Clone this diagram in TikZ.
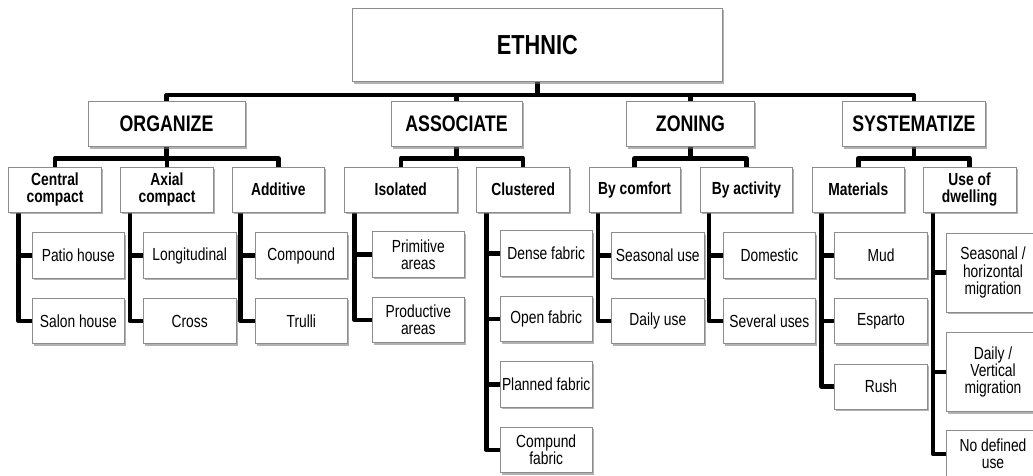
\documentclass[tikz,border=0pt]{standalone}
\usepackage{fontspec}
\setmainfont{Liberation Sans}[FakeStretch=0.79]
\usetikzlibrary{shadows,backgrounds}
\begin{document}
\begin{tikzpicture}[x=1pt,y=-1pt,
  box/.style={draw=black!45, line width=0.8pt, fill=white, inner sep=0pt, align=center,
    text=black, drop shadow={shadow xshift=1.6pt, shadow yshift=-1.8pt, fill=black!55, opacity=0.55}},
  topbox/.style={box, minimum width=370.6pt, minimum height=73.4pt, font=\fontsize{27.5}{29}\selectfont\bfseries},
  lone/.style={box, minimum height=45.3pt, font=\fontsize{22.5}{24}\selectfont\bfseries},
  ltwo/.style={box, minimum height=45.3pt, minimum width=92.5pt, font=\fontsize{17.5}{17}\selectfont\bfseries},
  lthree/.style={box, minimum height=45.5pt, minimum width=92.5pt, font=\fontsize{17.5}{17.3}\selectfont},
  conn/.style={line width=4.5pt, black, line join=round}
]
\useasboundingbox (0,0) rectangle (1033,475);

% root
\node[topbox] (eth) at (537.3,45) {ETHNIC};

% level 1
\node[lone, minimum width=157pt] (org) at (166.5,124.2) {ORGANIZE};
\node[lone, minimum width=131pt] (ass) at (456.5,124.2) {ASSOCIATE};
\node[lone, minimum width=127.4pt] (zon) at (690.5,124.2) {ZONING};
\node[lone, minimum width=143pt] (sys) at (913.9,124.2) {SYSTEMATIZE};

% level 2
\node[ltwo, minimum width=93.4pt] (cc) at (55,189.7) {Central\\compact};
\node[ltwo] (ac) at (167,189.7) {Axial\\compact};
\node[ltwo, minimum width=92pt] (ad) at (278.3,189.7) {Additive};
\node[ltwo, minimum width=113.7pt] (iso) at (400.8,189.7) {Isolated};
\node[ltwo, minimum width=93pt] (clu) at (523.2,189.7) {Clustered};
\node[ltwo, minimum width=91.2pt] (bco) at (634.6,189.7) {By comfort};
\node[ltwo, minimum width=91.8pt] (bac) at (746.4,189.7) {By activity};
\node[ltwo] (mat) at (858.3,189.7) {Materials};
\node[ltwo, minimum width=92.8pt] (use) at (969.6,189.7) {Use of\\dwelling};

% level 3
\node[lthree, minimum width=92pt] (ph) at (78.3,255.5) {Patio house};
\node[lthree, minimum width=92pt] (sh) at (78.3,321) {Salon house};
\node[lthree] (lo) at (189.7,255.5) {Longitudinal};
\node[lthree] (cr) at (189.7,321) {Cross};
\node[lthree] (co) at (301.3,255.5) {Compound};
\node[lthree] (tr) at (301.3,321) {Trulli};
\node[lthree, minimum width=92pt] (pr) at (418.3,254.5) {Primitive\\areas};
\node[lthree, minimum width=92pt] (pd) at (418.3,320) {Productive\\areas};
\node[lthree] (df) at (546.2,253.5) {Dense fabric};
\node[lthree] (of) at (546.2,319) {Open fabric};
\node[lthree] (pf) at (546.2,384.5) {Planned fabric};
\node[lthree] (cf) at (546.2,450) {Compund\\fabric};
\node[lthree] (se) at (657.8,255.5) {Seasonal use};
\node[lthree] (du) at (657.8,321) {Daily use};
\node[lthree, minimum width=92pt] (dom) at (769.4,255.5) {Domestic};
\node[lthree, minimum width=92pt] (sev) at (769.4,321) {Several uses};
\node[lthree] (mud) at (881,255.5) {Mud};
\node[lthree] (esp) at (881,321) {Esparto};
\node[lthree] (rush) at (881,386.7) {Rush};
\node[lthree, minimum width=93pt, minimum height=79pt] (shm) at (993,272.5) {Seasonal /\\horizontal\\migration};
\node[lthree, minimum width=93pt, minimum height=79.4pt] (dvm) at (993,372) {Daily /\\Vertical\\migration};
\node[lthree, minimum width=93pt, minimum height=47pt] (ndu) at (993,454) {No defined\\use};

\begin{scope}[on background layer]
  % root to level 1
  \draw[conn] (eth.south) -- ++(0,13) coordinate (b0);
  \draw[conn] (org.north) |- (b0) -| (sys.north);
  \draw[conn] (ass.north) -- (ass.north |- b0);
  \draw[conn] (zon.north) -- (zon.north |- b0);
  % level 1 to level 2
  \draw[conn] (org.south) -- ++(0,11) coordinate (bo);
  \draw[conn] (cc.north) |- (bo) -| (ad.north);
  \draw[conn] (ac.north) -- (ac.north |- bo);
  \draw[conn] (ass.south) -- ++(0,11) coordinate (ba);
  \draw[conn] (iso.north) |- (ba) -| (clu.north);
  \draw[conn] (zon.south) -- ++(0,11) coordinate (bz);
  \draw[conn] (bco.north) |- (bz) -| (bac.north);
  \draw[conn] (sys.south) -- ++(0,11) coordinate (bs);
  \draw[conn] (mat.north) |- (bs) -| (use.north);
  % level 2 to level 3
  \coordinate (xcc) at ([xshift=10.5pt]cc.south west);
  \draw[conn] (xcc) |- (sh.west);
  \draw[conn] (ph.west) -- (ph.west -| xcc);
  \coordinate (xac) at ([xshift=9.5pt]ac.south west);
  \draw[conn] (xac) |- (cr.west);
  \draw[conn] (lo.west) -- (lo.west -| xac);
  \coordinate (xad) at ([xshift=8.8pt]ad.south west);
  \draw[conn] (xad) |- (tr.west);
  \draw[conn] (co.west) -- (co.west -| xad);
  \coordinate (xiso) at ([xshift=11pt]iso.south west);
  \draw[conn] (xiso) |- (pd.west);
  \draw[conn] (pr.west) -- (pr.west -| xiso);
  \coordinate (xclu) at ([xshift=10pt]clu.south west);
  \draw[conn] (xclu) |- (cf.west);
  \draw[conn] (df.west) -- (df.west -| xclu);
  \draw[conn] (of.west) -- (of.west -| xclu);
  \draw[conn] (pf.west) -- (pf.west -| xclu);
  \coordinate (xbco) at ([xshift=9.6pt]bco.south west);
  \draw[conn] (xbco) |- (du.west);
  \draw[conn] (se.west) -- (se.west -| xbco);
  \coordinate (xbac) at ([xshift=8.8pt]bac.south west);
  \draw[conn] (xbac) |- (sev.west);
  \draw[conn] (dom.west) -- (dom.west -| xbac);
  \coordinate (xmat) at ([xshift=10pt]mat.south west);
  \draw[conn] (xmat) |- (rush.west);
  \draw[conn] (mud.west) -- (mud.west -| xmat);
  \draw[conn] (esp.west) -- (esp.west -| xmat);
  \coordinate (xuse) at ([xshift=10.2pt]use.south west);
  \draw[conn] (xuse) |- (ndu.west);
  \draw[conn] (shm.west) -- (shm.west -| xuse);
  \draw[conn] (dvm.west) -- (dvm.west -| xuse);
\end{scope}
\end{tikzpicture}
\end{document}
